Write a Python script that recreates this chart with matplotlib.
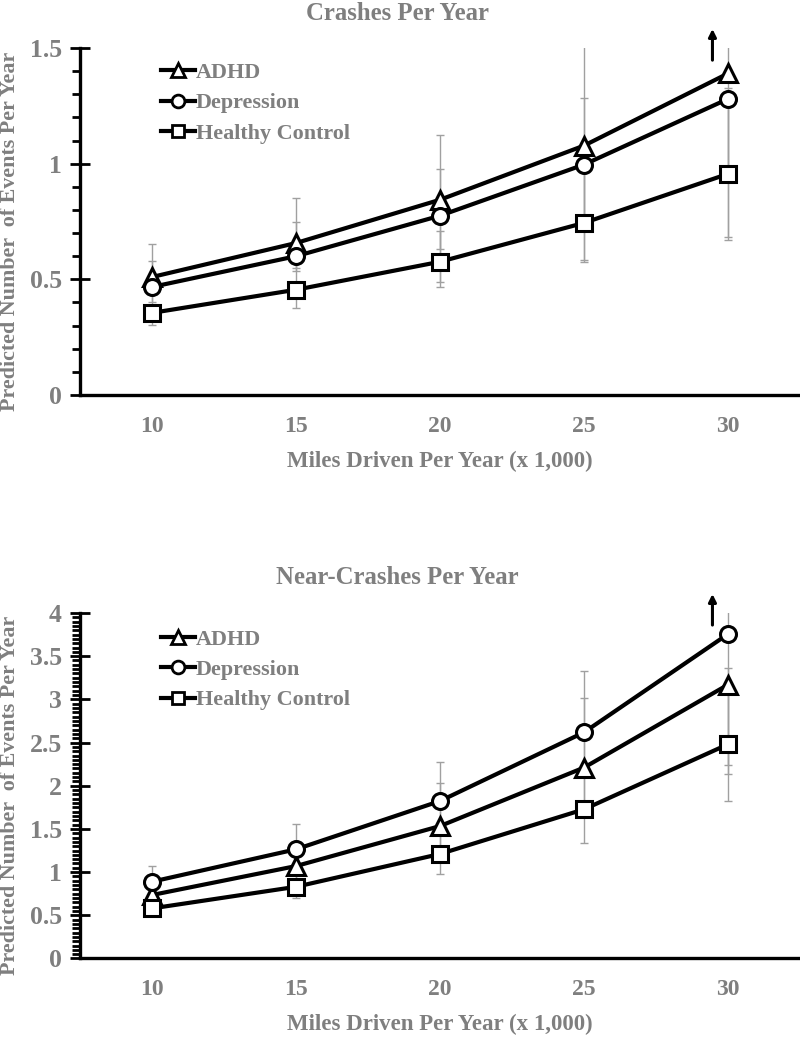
import matplotlib
matplotlib.use("Agg")
import matplotlib.pyplot as plt
from matplotlib.ticker import MultipleLocator, FuncFormatter
from matplotlib.lines import Line2D

# ---------------- data ----------------
miles = [10, 15, 20, 25, 30]
groups = ["ADHD", "Depression", "Healthy Control"]

# Crashes per year
crash_adhd = [0.51, 0.657, 0.844, 1.078, 1.39]
crash_adhd_lo = [0.447, 0.55, 0.633, 0.573, 0.685]
crash_adhd_hi = [0.653, 0.851, 1.126, 1.52, 1.62]
crash_dep = [0.467, 0.60, 0.775, 0.996, 1.28]
crash_dep_lo = [0.40, 0.538, 0.49, 0.77, 0.95]
crash_dep_hi = [0.58, 0.746, 0.977, 1.284, 1.325]
crash_hc = [0.355, 0.455, 0.576, 0.744, 0.956]
crash_hc_lo = [0.303, 0.377, 0.469, 0.584, 0.671]
crash_hc_hi = [0.46, 0.57, 0.71, 0.96, 1.28]

# Near-crashes per year
near_adhd = [0.735, 1.07, 1.533, 2.21, 3.17]
near_adhd_lo = [0.62, 0.92, 1.25, 1.80, 2.135]
near_adhd_hi = [0.87, 1.24, 2.028, 3.02, 3.36]
near_dep = [0.889, 1.264, 1.823, 2.618, 3.756]
near_dep_lo = [0.75, 1.10, 1.55, 2.22, 2.24]
near_dep_hi = [1.074, 1.557, 2.271, 3.331, 4.4]
near_hc = [0.58, 0.83, 1.21, 1.727, 2.48]
near_hc_lo = [0.50, 0.704, 0.975, 1.34, 1.827]
near_hc_hi = [0.67, 0.98, 1.45, 2.2, 3.15]

# ---------------- style ----------------
FONT = "Liberation Serif"
GRAY = "#7f7f7f"
FS_TICK_Y = 18.5
FS_TICK_X = 17
FS_TITLE = 17.8
FS_LEG = 15.9
FS_YLAB = 15.8
FS_XLAB = 16.5
markers = ["^", "o", "s"]
msizes = [13, 11.5, 11.5]

plt.rcParams["font.family"] = [FONT, "DejaVu Serif"]
plt.rcParams["font.weight"] = "bold"

fig = plt.figure(figsize=(8, 10.37), dpi=100)
ax1 = fig.add_axes([0.1, 0.6191, 0.9, 0.3346])
ax2 = fig.add_axes([0.1, 0.0757, 0.9, 0.3332])


def panel(ax, series, ymax, major, minor, leg_y):
    for (vals, lo, hi), mk, ms in zip(series, markers, msizes):
        yerr = [[v - l for v, l in zip(vals, lo)], [h - v for v, h in zip(vals, hi)]]
        ax.errorbar(miles, vals, yerr=yerr, fmt="none", ecolor="#a0a0a0",
                    elinewidth=1.0, capsize=3.2, capthick=1.0, zorder=1)
        ax.plot(miles, vals, color="black", lw=3.0, marker=mk, ms=ms,
                mfc="white", mec="black", mew=2.2, zorder=3)
    ax.set_xlim(7.5, 32.5)
    ax.set_ylim(0, ymax)
    ax.set_xticks(miles)
    ax.yaxis.set_major_locator(MultipleLocator(major))
    ax.yaxis.set_minor_locator(MultipleLocator(minor))
    ax.yaxis.set_major_formatter(FuncFormatter(lambda v, p: "%g" % v))
    for s in ["top", "right"]:
        ax.spines[s].set_visible(False)
    for s in ["left", "bottom"]:
        ax.spines[s].set_linewidth(2.4)
    ax.tick_params(axis="y", which="major", direction="inout", length=15,
                   width=2, pad=5.5, labelsize=FS_TICK_Y, labelcolor=GRAY)
    ax.tick_params(axis="y", which="minor", direction="out", length=6, width=2)
    ax.tick_params(axis="x", which="major", length=0, pad=15,
                   labelsize=FS_TICK_X, labelcolor=GRAY)
    for lab in ax.get_xticklabels() + ax.get_yticklabels():
        lab.set_fontweight("bold")
    ax.set_xlabel("Miles Driven Per Year (x 1,000)", fontsize=FS_XLAB,
                  color=GRAY, fontweight="bold", labelpad=10)
    handles = [Line2D([], [], color="black", lw=3.0, marker=mk, ms=ms * 0.8,
                      mfc="white", mec="black", mew=2.0)
               for mk, ms in zip(markers, msizes)]
    leg = ax.legend(handles, groups, loc="upper left",
                    bbox_to_anchor=(0.112, leg_y), frameon=False,
                    borderpad=0, borderaxespad=0, handlelength=1.55,
                    handletextpad=0.05, labelspacing=0.45,
                    prop={"family": FONT, "weight": "bold", "size": FS_LEG})
    for t in leg.get_texts():
        t.set_color(GRAY)
    # arrow marking an interval that runs past the top of the axis
    ax.annotate("", xy=(miles[-1] - 0.54, ymax * 1.055),
                xytext=(miles[-1] - 0.54, ymax * 0.965),
                arrowprops=dict(arrowstyle="-|>", color="black", lw=2.2,
                                mutation_scale=11, shrinkA=0, shrinkB=0),
                annotation_clip=False)


panel(ax1, [(crash_adhd, crash_adhd_lo, crash_adhd_hi),
            (crash_dep, crash_dep_lo, crash_dep_hi),
            (crash_hc, crash_hc_lo, crash_hc_hi)], 1.5, 0.5, 0.1, 0.958)
panel(ax2, [(near_adhd, near_adhd_lo, near_adhd_hi),
            (near_dep, near_dep_lo, near_dep_hi),
            (near_hc, near_hc_lo, near_hc_hi)], 4.0, 0.5, 0.05, 0.953)

ylab = "Predicted Number  of Events Per Year"
fig.text(10 / 800, 1 - 231.5 / 1037, ylab, rotation=90, ha="center",
         va="center", fontsize=FS_YLAB, color=GRAY, fontweight="bold")
fig.text(10 / 800, 1 - 795 / 1037, ylab, rotation=90, ha="center",
         va="center", fontsize=FS_YLAB, color=GRAY, fontweight="bold")
fig.text(0.497, 1 - 13 / 1037, "Crashes Per Year", ha="center", va="center",
         fontsize=FS_TITLE, color=GRAY, fontweight="bold")
fig.text(0.497, 1 - 577 / 1037, "Near-Crashes Per Year", ha="center",
         va="center", fontsize=FS_TITLE, color=GRAY, fontweight="bold")

fig.savefig("out.png", dpi=100)
